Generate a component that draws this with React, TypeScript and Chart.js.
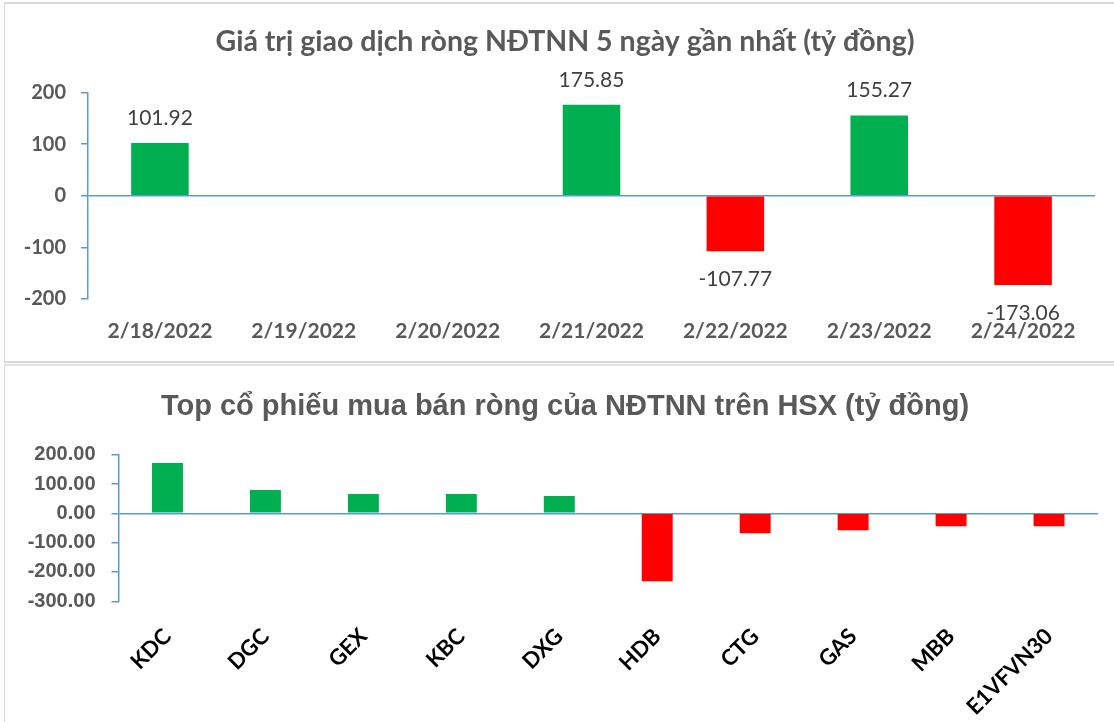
import React, { useEffect, useRef } from "react";
import { Chart, registerables } from "chart.js";

Chart.register(...registerables);

// ---------- data ----------
const dayLabels = ["2/18/2022", "2/19/2022", "2/20/2022", "2/21/2022", "2/22/2022", "2/23/2022", "2/24/2022"];
const dayValues: (number | null)[] = [101.92, null, null, 175.85, -107.77, 155.27, -173.06];
const dayAxisMin = -200;
const dayAxisMax = 200;
const dayAxisStep = 100;

const stockLabels = ["KDC", "DGC", "GEX", "KBC", "DXG", "HDB", "CTG", "GAS", "MBB", "E1VFVN30"];
const stockValues = [172, 80, 66, 66, 59, -232, -68, -58, -44, -44];
const stockAxisMin = -300;
const stockAxisMax = 200;
const stockAxisStep = 100;

const topTitle = "Giá trị giao dịch ròng NĐTNN 5 ngày gần nhất (tỷ đồng)";
const bottomTitle = "Top cổ phiếu mua bán ròng của NĐTNN trên HSX (tỷ đồng)";

// ---------- styles ----------
const GREEN = "#00b050";
const RED = "#ff0000";
const AXIS_BLUE = "#5b9bd5";
const GRAY_TEXT = "#595959";

const valueLabels = {
  id: "valueLabels",
  afterDatasetsDraw(chart: any, _args: any, opts: any) {
    if (!opts || !opts.enabled) return;
    const { ctx } = chart;
    const meta = chart.getDatasetMeta(0);
    const data = chart.data.datasets[0].data;
    ctx.save();
    ctx.font = opts.font;
    ctx.fillStyle = opts.color;
    ctx.textAlign = "center";
    ctx.textBaseline = "middle";
    meta.data.forEach((el: any, i: number) => {
      const v = data[i];
      if (v === null || v === undefined || v === 0) return;
      const p = el.getProps(["x", "y"], true);
      const y = v > 0 ? p.y - opts.above : p.y + opts.below;
      ctx.fillText(Number(v).toFixed(2), p.x, y);
    });
    ctx.restore();
  },
};

// invisible right-hand spacer axis (keeps the title centred like the reference)
function spacerAxis(width: number): any {
  return {
    position: "right",
    display: true,
    grid: { display: false },
    border: { display: false },
    ticks: { display: false },
    afterFit: (s: any) => {
      s.width = width;
    },
  };
}

function zeroLineGrid(): any {
  return {
    drawOnChartArea: true,
    color: (c: any) => (c.tick && c.tick.value === 0 ? AXIS_BLUE : "rgba(0,0,0,0)"),
    tickColor: AXIS_BLUE,
    tickLength: 7,
    lineWidth: 1.5,
  };
}

function makeTopConfig(): any {
  return {
    type: "bar",
    data: {
      labels: dayLabels,
      datasets: [
        {
          data: dayValues,
          backgroundColor: dayValues.map((v) => ((v ?? 0) >= 0 ? GREEN : RED)),
          barPercentage: 0.4,
          categoryPercentage: 1,
          yAxisID: "y",
        },
      ],
    },
    plugins: [valueLabels],
    options: {
      responsive: false,
      animation: false,
      layout: { padding: { left: 0, right: 0, top: 0, bottom: 0 } },
      plugins: {
        legend: { display: false },
        tooltip: { enabled: false },
        title: {
          display: true,
          text: topTitle,
          color: GRAY_TEXT,
          font: { family: "Lato", size: 28.5, weight: "bold", lineHeight: 1.2 },
          padding: { top: 22.2, bottom: 33.0 },
        },
        valueLabels: {
          enabled: true,
          font: "21px Lato",
          color: "#404040",
          above: 25,
          below: 28,
        },
      },
      scales: {
        x: {
          grid: { display: false },
          border: { display: false },
          ticks: {
            color: GRAY_TEXT,
            font: { family: "Lato", size: 21, weight: "bold" },
            padding: 12,
            maxRotation: 0,
            minRotation: 0,
            autoSkip: false,
          },
          afterFit: (s: any) => {
            s.height = 63;
          },
        },
        y: {
          position: "left",
          min: dayAxisMin,
          max: dayAxisMax,
          ticks: {
            stepSize: dayAxisStep,
            color: GRAY_TEXT,
            font: { family: "Lato", size: 20, weight: "bold" },
            padding: 15,
          },
          grid: zeroLineGrid(),
          border: { display: true, color: AXIS_BLUE, width: 1.5 },
          afterFit: (s: any) => {
            s.width = 83;
          },
        },
        ySpacer: spacerAxis(30),
      },
    },
  };
}

function makeBottomConfig(): any {
  return {
    type: "bar",
    data: {
      labels: stockLabels,
      datasets: [
        {
          data: stockValues,
          backgroundColor: stockValues.map((v) => (v >= 0 ? GREEN : RED)),
          barPercentage: 0.316,
          categoryPercentage: 1,
          yAxisID: "y",
        },
      ],
    },
    options: {
      responsive: false,
      animation: false,
      layout: { padding: { left: 0, right: 0, top: 0, bottom: 0 } },
      plugins: {
        legend: { display: false },
        tooltip: { enabled: false },
        title: {
          display: true,
          text: bottomTitle,
          color: GRAY_TEXT,
          font: { family: "Liberation Sans", size: 29, weight: "bold", lineHeight: 1.2 },
          padding: { top: 22.6, bottom: 30.3 },
        },
      },
      scales: {
        x: {
          grid: { display: false },
          border: { display: false },
          ticks: {
            color: "#000000",
            font: { family: "Lato", size: 22, weight: "bold" },
            padding: 14,
            maxRotation: 45,
            minRotation: 45,
            autoSkip: false,
          },
          afterFit: (s: any) => {
            s.height = 120.7;
          },
        },
        y: {
          position: "left",
          min: stockAxisMin,
          max: stockAxisMax,
          ticks: {
            stepSize: stockAxisStep,
            color: GRAY_TEXT,
            font: { family: "Liberation Sans", size: 20, weight: "bold" },
            padding: 16,
            callback: (v: any) => Number(v).toFixed(2),
          },
          grid: zeroLineGrid(),
          border: { display: true, color: AXIS_BLUE, width: 1.5 },
          afterFit: (s: any) => {
            s.width = 113.5;
          },
        },
        ySpacer: spacerAxis(27),
      },
    },
  };
}

function ChartCanvas(props: { build: () => any; left: number; top: number; width: number; height: number }) {
  const ref = useRef<HTMLCanvasElement | null>(null);
  useEffect(() => {
    if (!ref.current) return;
    const chart = new Chart(ref.current, props.build());
    return () => chart.destroy();
  }, []);
  return (
    <canvas
      ref={ref}
      width={props.width}
      height={props.height}
      style={{ position: "absolute", left: props.left, top: props.top, width: props.width, height: props.height }}
    />
  );
}

export default function App() {
  return (
    <div
      style={{
        position: "fixed",
        left: 0,
        top: 0,
        width: 1114,
        height: 722,
        background: "#ffffff",
        overflow: "hidden",
      }}
    >
      <div
        style={{
          position: "absolute",
          left: 4,
          top: 2,
          width: 1112,
          height: 361,
          boxSizing: "border-box",
          borderLeft: "1px solid #d9d9d9",
          borderTop: "2px solid #d9d9d9",
          borderBottom: "2px solid #d9d9d9",
        }}
      />
      <div
        style={{
          position: "absolute",
          left: 4,
          top: 364,
          width: 1112,
          height: 360,
          boxSizing: "border-box",
          borderLeft: "1px solid #d9d9d9",
          borderTop: "2px solid #e3e3e3",
        }}
      />
      <ChartCanvas build={makeTopConfig} left={5} top={3} width={1120} height={359} />
      <ChartCanvas build={makeBottomConfig} left={5} top={367} width={1120} height={355} />
    </div>
  );
}
